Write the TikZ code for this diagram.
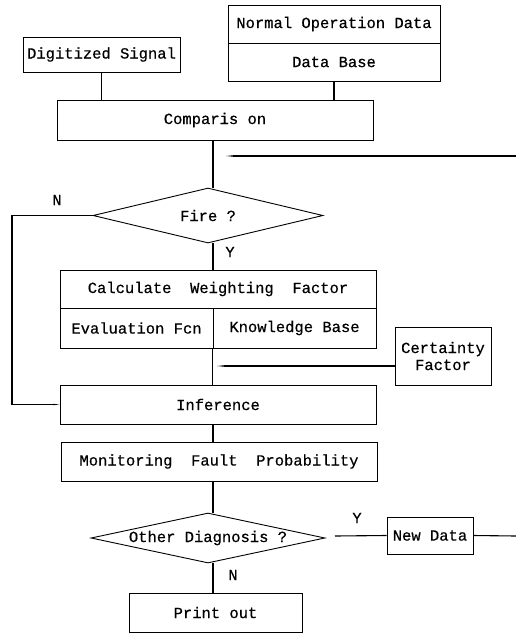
\documentclass[tikz,border=0pt]{standalone}
\usepackage{fontspec}
\newfontfamily\diagfont[FakeBold=0.5]{Liberation Mono}
\usetikzlibrary{shapes.geometric,arrows.meta}

\begin{document}
\begin{tikzpicture}[x=1pt,y=-1pt,
  box/.style={draw,line width=0.9pt,inner sep=0pt,anchor=center,align=center,font=\diagfont\fontsize{15.5}{17}\selectfont},
  dia/.style={draw,diamond,aspect=5,inner sep=0pt,line width=0.9pt,anchor=center,font=\diagfont\fontsize{15.5}{17}\selectfont},
  lbl/.style={anchor=center,font=\diagfont\fontsize{15.5}{17}\selectfont},
  link/.style={draw,line width=1.1pt,line cap=butt,line join=miter},
  into/.style={link,-{Stealth[length=12pt,width=2.5pt]}}]
% 516 x 633 px, one unit per pixel
\useasboundingbox (0,0) rectangle (516,633);
\node[box,minimum width=157,minimum height=35] (sig) at (101.5,54.5) {Digitized Signal};
\node[box,minimum width=212,minimum height=38] (normal) at (334,24) {Normal Operation Data};
\node[box,minimum width=212,minimum height=38] (dbase) at (334,62) {Data Base};
\node[box,minimum width=316,minimum height=40] (comp) at (215,120) {Comparis on};
\node[dia,minimum width=230,minimum height=55] (fire) at (208,215.5) {Fire ?};
\node[box,minimum width=316,minimum height=38] (calc) at (218,289) {Calculate\ \ Weighting\ \ Factor};
\node[box,minimum width=153,minimum height=40] (evalf) at (136.5,328) {Evaluation Fcn};
\node[box,minimum width=163,minimum height=40] (know) at (294.5,328) {Knowledge Base};
\node[box,minimum width=96,minimum height=58] (cert) at (443,356) {Certainty\\Factor};
\node[box,minimum width=316,minimum height=39] (infer) at (218,404.5) {Inference};
\node[box,minimum width=316,minimum height=39] (monit) at (219,461.5) {Monitoring\ \ Fault\ \ Probability};
\node[dia,minimum width=234,minimum height=50] (other) at (208,538) {Other Diagnosis ?};
\node[box,minimum width=86,minimum height=37] (newd) at (430,535.5) {New Data};
\node[box,minimum width=173,minimum height=39] (print) at (215.5,612.5) {Print out};
\node[lbl] (nfire) at (57,200) {N};
\node[lbl] (yfire) at (230,252) {Y};
\node[lbl] (yother) at (357,518) {Y};
\node[lbl] (nother) at (233,575) {N};
\coordinate (maincol) at (213,0);
\coordinate (backin) at (226,156);
\coordinate (backout) at (516,156);
\coordinate (nleft) at (12,300);
\coordinate (cfin) at (217,366);
\coordinate (ygap) at (335,536);
\coordinate (newout) at (516,536);
\path[link] (sig.south) -- (sig.south |- comp.north);
\path[link] (dbase.south) -- (dbase.south |- comp.north);
\path[link] (maincol |- comp.south) -- (maincol |- fire.north);
\path[into] (backout) -- (backin);
\path[into] (fire.west) -- (fire.west -| nleft) -- (infer.west -| nleft) -- (infer.west);
\path[link] (maincol |- fire.south) -- (maincol |- calc.north);
\path[link] (know.south west) -- (know.south west |- infer.north);
\path[into] (cfin -| cert.west) -- (cfin);
\path[link] (maincol |- infer.south) -- (maincol |- monit.north);
\path[link] (maincol |- monit.south) -- (maincol |- other.north);
\path[link] (ygap) -- (newd.west);
\path[link] (newd.east) -- (newout);
\path[link] (maincol |- other.south) -- (maincol |- print.north);
\end{tikzpicture}
\end{document}
